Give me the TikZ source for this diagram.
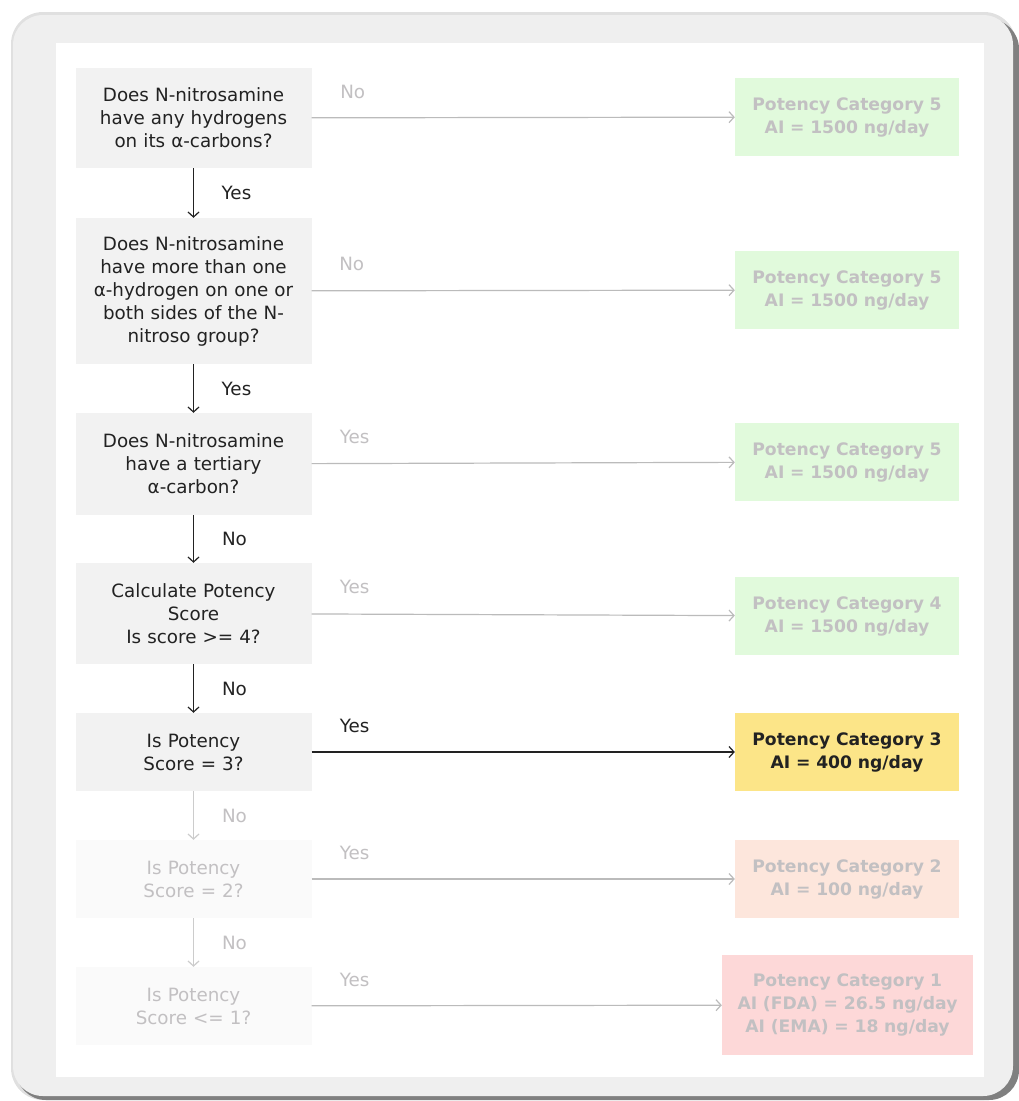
\documentclass[tikz,border=0pt]{standalone}
\usepackage{fontspec}
\setmainfont{DejaVu Sans}
\usetikzlibrary{positioning,arrows.meta}
\definecolor{boxgray}{HTML}{F2F2F2}
\definecolor{boxfade}{HTML}{FAFAFA}
\definecolor{txtdark}{HTML}{222222}
\definecolor{txtfade}{HTML}{C2C0C2}
\definecolor{linefade}{HTML}{BBBBBB}
\definecolor{catgreen}{HTML}{E1FADC}
\definecolor{catyellow}{HTML}{FCE588}
\definecolor{catpeach}{HTML}{FDE6DC}
\definecolor{catpink}{HTML}{FDD8D8}
\definecolor{framegray}{HTML}{EFEFEF}

\begin{document}
\begin{tikzpicture}[x=1pt, y=-1pt,
    question/.style={rectangle, fill=boxgray, text=txtdark, minimum width=236pt, text width=232pt, align=center, inner sep=0pt, font=\fontsize{18.3}{23}\selectfont},
    faded/.style={question, fill=boxfade, text=txtfade},
    category/.style={rectangle, minimum width=224pt, minimum height=78pt, text width=220pt, align=center, inner sep=0pt, text=txtfade, font=\fontsize{17.2}{23}\selectfont\bfseries},
    arrow/.style={-{Straight Barb[length=5pt, width=11pt]}, line width=1.2pt, txtdark},
    fadearrow/.style={arrow, linefade},
    lbl/.style={font=\fontsize{18.3}{20}\selectfont, text=txtdark},
    fadelbl/.style={lbl, text=txtfade}
  ]
  \useasboundingbox (0,0) rectangle (1019,1101);
  \fill[black!12, rounded corners=32pt] (11,12) rectangle (1016,1100);
  \fill[black!50, rounded corners=30pt] (16,19) rectangle (1019,1100);
  \fill[framegray, rounded corners=30pt] (13,15) rectangle (1013,1096);
  \fill[white] (56,43) rectangle (984,1077);

  \node[question, minimum height=100pt] (hydro)   at (193.5,118)  {Does N-nitrosamine\\have any hydrogens\\on its α-carbons?};
  \node[question, minimum height=146pt] (morehyd) at (193.5,291)  {Does N-nitrosamine\\have more than one\\α-hydrogen on one or\\both sides of the N-\\nitroso group?};
  \node[question, minimum height=102pt] (tert)    at (193.5,464)  {Does N-nitrosamine\\have a tertiary\\α-carbon?};
  \node[question, minimum height=101pt] (calc)    at (193.5,613.5){Calculate Potency\\Score\\Is score >= 4?};
  \node[question, minimum height=78pt]  (three)   at (193.5,752)  {Is Potency\\Score = 3?};
  \node[faded,    minimum height=78pt]  (two)     at (193.5,879)  {Is Potency\\Score = 2?};
  \node[faded,    minimum height=78pt]  (one)     at (193.5,1006) {Is Potency\\Score <= 1?};

  \node[category, fill=catgreen]  (catA) at (847,117) {Potency Category 5\\AI = 1500 ng/day};
  \node[category, fill=catgreen]  (catB) at (847,290) {Potency Category 5\\AI = 1500 ng/day};
  \node[category, fill=catgreen]  (catC) at (847,462) {Potency Category 5\\AI = 1500 ng/day};
  \node[category, fill=catgreen]  (cat4) at (847,616) {Potency Category 4\\AI = 1500 ng/day};
  \node[category, fill=catyellow, text=txtdark] (cat3) at (847,752) {Potency Category 3\\AI = 400 ng/day};
  \node[category, fill=catpeach]  (cat2) at (847,879) {Potency Category 2\\AI = 100 ng/day};
  \node[category, fill=catpink, minimum width=251pt, minimum height=100pt, text width=247pt] (cat1) at (847.5,1005) {Potency Category 1\\AI (FDA) = 26.5 ng/day\\AI (EMA) = 18 ng/day};

  \draw[fadearrow] (hydro)   -- (catA) node[fadelbl, pos=0, xshift=41pt, yshift=26pt] {No};
  \draw[fadearrow] (morehyd) -- (catB) node[fadelbl, pos=0, xshift=40pt, yshift=27pt] {No};
  \draw[fadearrow] (tert)    -- (catC) node[fadelbl, pos=0, xshift=43pt, yshift=27pt] {Yes};
  \draw[fadearrow] (calc)    -- (cat4) node[fadelbl, pos=0, xshift=43pt, yshift=27pt] {Yes};
  \draw[arrow]     (three)   -- (cat3) node[lbl,     pos=0, xshift=43pt, yshift=26pt] {Yes};
  \draw[fadearrow] (two)     -- (cat2) node[fadelbl, pos=0, xshift=43pt, yshift=26pt] {Yes};
  \draw[fadearrow] (one)     -- (cat1) node[fadelbl, pos=0, xshift=43pt, yshift=26pt] {Yes};

  \draw[arrow]     (hydro)   -- (morehyd) node[lbl,     midway, xshift=43pt] {Yes};
  \draw[arrow]     (morehyd) -- (tert)    node[lbl,     midway, xshift=43pt] {Yes};
  \draw[arrow]     (tert)    -- (calc)    node[lbl,     midway, xshift=41pt] {No};
  \draw[arrow]     (calc)    -- (three)   node[lbl,     midway, xshift=41pt] {No};
  \draw[fadearrow, black!20] (three) -- (two) node[fadelbl, midway, xshift=41pt] {No};
  \draw[fadearrow, black!20] (two)   -- (one) node[fadelbl, midway, xshift=41pt] {No};
\end{tikzpicture}
\end{document}
